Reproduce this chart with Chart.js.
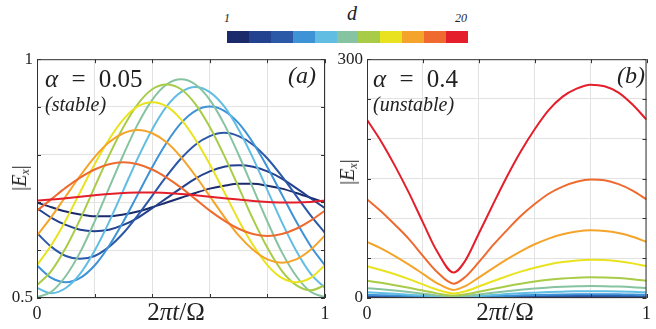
<!DOCTYPE html>
<html>
<head>
<meta charset="utf-8">
<script src="https://cdn.jsdelivr.net/npm/chart.js@4.4.1/dist/chart.umd.min.js"></script>
<style>
body { margin: 0; background: #fff; }
#wrap { position: relative; width: 656px; height: 329px; overflow: hidden; font-family: 'Liberation Serif', 'Times New Roman', serif; color: #222; }
.abs { position: absolute; white-space: nowrap; line-height: 1; }
canvas { position: absolute; }
#cbar { position: absolute; left: 227px; top: 31px; width: 241px; height: 12px; display: flex; }
#cbar div { flex: 1; }
.ylab { font-size: 20px; transform: translate(-50%, -50%) rotate(-90deg); }
.ylab sub { font-size: 12px; vertical-align: -3px; }
.xlab { font-size: 25px; transform: translateX(-50%); }
.alpha { font-size: 25px; word-spacing: 7px; }
.note { font-size: 20px; font-style: italic; }
.tag { font-size: 24px; font-style: italic; }
.cb { font-size: 12px; font-style: italic; color: #222; }
</style>
</head>
<body>
<div id="wrap">
  <div class="abs cb" style="left:224px;top:12px">1</div>
  <div class="abs" style="left:347px;top:3px;font-size:20px;font-style:italic">d</div>
  <div class="abs cb" style="left:455px;top:12px">20</div>
  <div id="cbar"></div>

  <canvas id="chartA" width="335" height="284" style="left:0;top:45px"></canvas>
  <canvas id="chartB" width="326" height="284" style="left:330px;top:45px"></canvas>

  <div class="abs alpha" style="left:45px;top:66px"><i>α</i> = 0.05</div>
  <div class="abs note" style="left:45px;top:94px">(stable)</div>
  <div class="abs tag" style="left:288px;top:63px">(a)</div>

  <div class="abs alpha" style="left:373px;top:66px"><i>α</i> = 0.4</div>
  <div class="abs note" style="left:373px;top:94px">(unstable)</div>
  <div class="abs tag" style="left:617px;top:63px">(b)</div>

  <div class="abs ylab" style="left:20px;top:178px">|<i>E</i><sub><i>x</i></sub>|</div>
  <div class="abs ylab" style="left:348px;top:172px">|<i>E</i><sub><i>x</i></sub>|</div>
  <div class="abs xlab" style="left:176px;top:299px">2<i>πt</i>/Ω</div>
  <div class="abs xlab" style="left:505px;top:299px">2<i>πt</i>/Ω</div>
</div>
<script>
// time axis samples (fraction of the period)
const tA = [0, 0.05, 0.1, 0.15, 0.2, 0.25, 0.3, 0.35, 0.4, 0.45, 0.5, 0.55, 0.6, 0.65, 0.7, 0.75, 0.8, 0.85, 0.9, 0.95, 1];
const tB = [0, 0.05, 0.1, 0.15, 0.2, 0.25, 0.31, 0.35, 0.4, 0.45, 0.5, 0.55, 0.6, 0.65, 0.7, 0.75, 0.8, 0.85, 0.9, 0.95, 1];

// colour per value of d, 1 -> 20
const dColors = ['#1b2a6b', '#22418f', '#2c58a8', '#3d93d6', '#62bde3', '#86c3a0', '#a8cc48', '#e9e31f', '#f4a42a', '#ee6a2e', '#e41f2b'];

// |Ex|, alpha = 0.05 (stable)
const stab1  = [0.700, 0.690, 0.681, 0.675, 0.671, 0.671, 0.675, 0.681, 0.690, 0.700, 0.710, 0.720, 0.729, 0.735, 0.739, 0.739, 0.735, 0.729, 0.720, 0.710, 0.700];
const stab2  = [0.688, 0.668, 0.653, 0.643, 0.640, 0.643, 0.653, 0.668, 0.688, 0.709, 0.730, 0.750, 0.765, 0.775, 0.778, 0.775, 0.765, 0.750, 0.730, 0.709, 0.688];
const stab3  = [0.636, 0.607, 0.588, 0.582, 0.588, 0.607, 0.636, 0.673, 0.714, 0.755, 0.792, 0.821, 0.839, 0.846, 0.839, 0.821, 0.792, 0.755, 0.714, 0.673, 0.636];
const stab4  = [0.568, 0.542, 0.533, 0.542, 0.568, 0.609, 0.660, 0.717, 0.774, 0.825, 0.866, 0.892, 0.901, 0.892, 0.866, 0.825, 0.774, 0.717, 0.660, 0.609, 0.568];
const stab5  = [0.521, 0.510, 0.521, 0.551, 0.599, 0.659, 0.726, 0.793, 0.853, 0.901, 0.931, 0.942, 0.931, 0.901, 0.853, 0.793, 0.726, 0.659, 0.599, 0.551, 0.521];
const stab6  = [0.502, 0.513, 0.546, 0.596, 0.660, 0.730, 0.800, 0.864, 0.915, 0.947, 0.958, 0.947, 0.915, 0.864, 0.800, 0.730, 0.660, 0.596, 0.546, 0.513, 0.502];
const stab7  = [0.527, 0.557, 0.605, 0.665, 0.732, 0.798, 0.858, 0.906, 0.937, 0.947, 0.937, 0.906, 0.858, 0.798, 0.732, 0.665, 0.605, 0.557, 0.527, 0.516, 0.527];
const stab8  = [0.569, 0.611, 0.663, 0.722, 0.780, 0.832, 0.874, 0.901, 0.910, 0.901, 0.874, 0.832, 0.780, 0.722, 0.663, 0.611, 0.569, 0.542, 0.533, 0.542, 0.569];
const stab9  = [0.631, 0.670, 0.713, 0.756, 0.795, 0.826, 0.845, 0.852, 0.845, 0.826, 0.795, 0.756, 0.713, 0.670, 0.631, 0.601, 0.581, 0.574, 0.581, 0.601, 0.631];
const stab10 = [0.683, 0.707, 0.731, 0.752, 0.769, 0.780, 0.784, 0.780, 0.769, 0.752, 0.731, 0.707, 0.683, 0.662, 0.645, 0.634, 0.630, 0.634, 0.645, 0.662, 0.683];
const stab11 = [0.704, 0.706, 0.709, 0.712, 0.715, 0.718, 0.720, 0.721, 0.721, 0.720, 0.718, 0.715, 0.712, 0.709, 0.706, 0.703, 0.701, 0.700, 0.700, 0.701, 0.704];

// |Ex|, alpha = 0.4 (unstable)
const unst1  = [0.7, 0.7, 0.6, 0.4, 0.3, 0.2, 0.1, 0.2, 0.3, 0.4, 0.5, 0.6, 0.7, 0.8, 0.8, 0.9, 0.9, 0.9, 0.9, 0.8, 0.7];
const unst2  = [1.2, 1.1, 0.9, 0.7, 0.5, 0.3, 0.2, 0.3, 0.5, 0.7, 0.9, 1.0, 1.2, 1.3, 1.4, 1.5, 1.5, 1.5, 1.4, 1.4, 1.2];
const unst3  = [2.2, 2.0, 1.7, 1.3, 1.0, 0.6, 0.3, 0.5, 0.8, 1.2, 1.5, 1.9, 2.1, 2.4, 2.5, 2.7, 2.7, 2.7, 2.6, 2.4, 2.2];
const unst4  = [4.0, 3.5, 3.0, 2.4, 1.7, 1.1, 0.6, 0.8, 1.4, 2.1, 2.7, 3.3, 3.8, 4.2, 4.5, 4.7, 4.8, 4.8, 4.6, 4.4, 4.0];
const unst5  = [7.1, 6.2, 5.3, 4.2, 3.0, 1.9, 1.0, 1.5, 2.6, 3.7, 4.9, 5.9, 6.7, 7.5, 8.0, 8.4, 8.5, 8.4, 8.2, 7.7, 7.1];
const unst6  = [12.4, 11.0, 9.3, 7.4, 5.4, 3.3, 1.8, 2.6, 4.5, 6.6, 8.6, 10.4, 11.9, 13.2, 14.1, 14.7, 15.0, 14.9, 14.4, 13.6, 12.4];
const unst7  = [21.6, 19.1, 16.1, 12.8, 9.3, 5.8, 3.1, 4.5, 7.8, 11.4, 14.8, 17.9, 20.6, 22.8, 24.5, 25.5, 26.0, 25.8, 25.0, 23.6, 21.6];
const unst8  = [39.8, 35.2, 29.8, 23.7, 17.1, 10.6, 5.8, 8.3, 14.5, 21.1, 27.4, 33.1, 38.1, 42.2, 45.2, 47.2, 48.0, 47.6, 46.1, 43.5, 39.8];
const unst9  = [70.5, 62.4, 52.7, 41.9, 30.4, 18.8, 10.2, 14.7, 25.7, 37.3, 48.5, 58.7, 67.5, 74.6, 80.1, 83.5, 85.0, 84.3, 81.7, 77.0, 70.5];
const unst10 = [124, 109, 92, 74, 53, 33, 18, 26, 45, 66, 85, 103, 118, 131, 140, 146, 149, 148, 143, 135, 124];
const unst11 = [224, 197, 166, 132, 95, 59, 32, 46, 81, 117, 152, 184, 212, 236, 253, 263, 268, 266, 258, 243, 224];

const stableSeries = [stab1, stab2, stab3, stab4, stab5, stab6, stab7, stab8, stab9, stab10, stab11];
const unstableSeries = [unst1, unst2, unst3, unst4, unst5, unst6, unst7, unst8, unst9, unst10, unst11];

// colorbar strip
const cbar = document.getElementById('cbar');
dColors.forEach(c => {
  const cell = document.createElement('div');
  cell.style.background = c;
  cbar.appendChild(cell);
});

// box around the plot area with short inward ticks, drawn over the curves
const frame = {
  id: 'frame',
  afterDatasetsDraw(chart) {
    const { ctx, chartArea: a, scales } = chart;
    ctx.save();
    ctx.strokeStyle = '#333';
    ctx.lineWidth = 1;
    ctx.strokeRect(a.left + 0.5, a.top + 0.5, a.right - a.left - 1, a.bottom - a.top - 1);
    ctx.beginPath();
    scales.x.ticks.forEach(t => {
      const px = Math.round(scales.x.getPixelForValue(t.value)) + 0.5;
      ctx.moveTo(px, a.bottom); ctx.lineTo(px, a.bottom - 4);
      ctx.moveTo(px, a.top); ctx.lineTo(px, a.top + 4);
    });
    scales.y.ticks.forEach(t => {
      const py = Math.round(scales.y.getPixelForValue(t.value)) + 0.5;
      ctx.moveTo(a.left, py); ctx.lineTo(a.left + 4, py);
      ctx.moveTo(a.right, py); ctx.lineTo(a.right - 4, py);
    });
    ctx.stroke();
    ctx.restore();
  }
};

const near = (a, b) => Math.abs(a - b) < 1e-6;

function makeChart(id, xs, series, yMin, yMax, yStep, yLabel, padRight) {
  return new Chart(document.getElementById(id), {
    type: 'line',
    data: {
      datasets: series.map((ys, i) => ({
        data: ys.map((y, k) => ({ x: xs[k], y: y })),
        borderColor: dColors[i],
        borderWidth: 2,
        pointRadius: 0,
        cubicInterpolationMode: 'monotone',
        order: series.length - i
      }))
    },
    options: {
      responsive: false,
      animation: false,
      devicePixelRatio: 1,
      layout: { padding: { top: 10, right: padRight, left: 0, bottom: 0 } },
      plugins: { legend: { display: false }, tooltip: { enabled: false } },
      scales: {
        x: {
          type: 'linear', min: 0, max: 1,
          ticks: {
            stepSize: 0.2, autoSkip: false, maxRotation: 0, padding: 5,
            font: { family: 'Liberation Serif', size: 18 }, color: '#222',
            callback: v => near(v, 0) ? '0' : near(v, 1) ? '1' : ''
          },
          grid: { color: '#e2e2e2', drawTicks: false },
          border: { display: false },
          afterFit: s => { s.height = 31; }
        },
        y: {
          min: yMin, max: yMax,
          ticks: {
            stepSize: yStep, autoSkip: false, padding: 4,
            font: { family: 'Liberation Serif', size: 17 }, color: '#222',
            callback: yLabel
          },
          grid: { color: '#e2e2e2', drawTicks: false },
          border: { display: false },
          afterFit: s => { s.width = 37; }
        }
      }
    },
    plugins: [frame]
  });
}

makeChart('chartA', tA, stableSeries, 0.5, 1, 0.1,
  v => near(v, 0.5) ? '0.5' : near(v, 1) ? '1' : '', 10);
makeChart('chartB', tB, unstableSeries, 0, 300, 50,
  v => near(v, 0) ? '0' : near(v, 300) ? '300' : '', 1);
</script>
</body>
</html>
